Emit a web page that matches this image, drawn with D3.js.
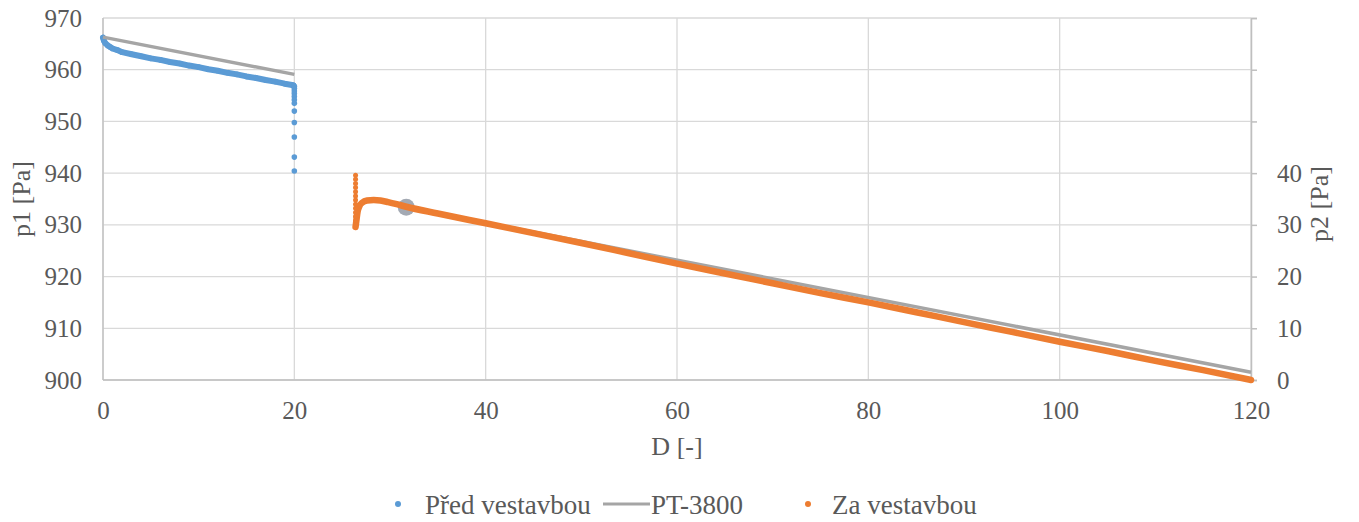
<!DOCTYPE html>
<html><head><meta charset="utf-8">
<script src="https://cdn.jsdelivr.net/npm/d3@7"></script>
<style>
html,body{margin:0;padding:0;background:#fff;}
svg text{font-family:"Liberation Serif","DejaVu Serif","Times New Roman",Times,serif !important;fill:#595959;}
</style></head>
<body><svg id="c" width="1359" height="522"></svg>
<script>
// ---- data ----
const xTicks = [0, 20, 40, 60, 80, 100, 120];
const p1Ticks = [900, 910, 920, 930, 940, 950, 960, 970];
const p2Ticks = [0, 10, 20, 30, 40, 50, 60, 70];
const p2Labels = ["0", "10", "20", "30", "40", "", "", ""];

// Před vestavbou (p1, left axis)
const blueD = [0, 0.1, 0.25, 0.5, 0.75, 1, 1.5, 2, 3, 4, 5, 6, 7, 8, 9, 10, 11, 12, 13, 14, 15, 16, 17, 18, 19, 19.9];
const blueP = [966.2, 965.6, 965.1, 964.7, 964.4, 964.1, 963.8, 963.4, 963.0, 962.6, 962.2, 961.9, 961.5, 961.2, 960.8, 960.5, 960.1, 959.8, 959.4, 959.1, 958.7, 958.4, 958.0, 957.7, 957.3, 957.0];
const blueDropD = 20;
const blueDropP = [956.8, 956.4, 955.9, 955.4, 954.8, 954.2, 953.5, 952.0, 949.8, 947.0, 943.1, 940.4];

// PT-3800 (p1, left axis)
const ptD = [0, 20, NaN, 31.7, 120];
const ptP = [966.3, 959.1, NaN, 933.4, 901.5];
const ptMarkerIndex = 3;

// Za vestavbou (p2, right axis)
const orangeDropD = 26.4;
const orangeDropP = [39.6, 38.8, 38.0, 37.2, 36.4, 35.6, 34.8, 34.0, 33.2, 32.4, 31.6, 30.8, 30.0, 29.6];
const orangeD = [26.4, 26.5, 26.6, 26.8, 27.1, 27.6, 28.3, 29.0, 29.8, 30.7, 31.7, 35, 40, 45, 50, 55, 60, 65, 70, 75, 80, 85, 90, 95, 100, 105, 110, 115, 120];
const orangeP = [29.6, 31.0, 32.4, 33.6, 34.3, 34.7, 34.8, 34.7, 34.4, 34.0, 33.5, 32.2, 30.3, 28.4, 26.5, 24.5, 22.5, 20.6, 18.7, 16.8, 15.0, 13.1, 11.2, 9.3, 7.4, 5.6, 3.7, 1.9, 0.0];

const legendItems = ["Před vestavbou", "PT-3800", "Za vestavbou"];
const colors = {blue: "#5b9bd5", gray: "#a5a5a5", orange: "#ed7d31"};

// ---- chart ----
const svg = d3.select("#c");
const L = 103, R = 1251, T = 18, B = 380;
const x = d3.scaleLinear().domain([0, 120]).range([L, R]);
const y1 = d3.scaleLinear().domain([900, 970]).range([B, T]);
const y2 = d3.scaleLinear().domain([0, 70]).range([B, T]);
const FS = 25;
const FF = '"Liberation Serif","DejaVu Serif",serif';

// gridlines
svg.append("g").selectAll("line").data(p1Ticks).join("line")
  .attr("x1", L).attr("x2", R).attr("y1", d => y1(d)).attr("y2", d => y1(d))
  .attr("stroke", "#d9d9d9").attr("stroke-width", 1.3);
svg.append("g").selectAll("line").data(xTicks).join("line")
  .attr("y1", T).attr("y2", B).attr("x1", d => x(d)).attr("x2", d => x(d))
  .attr("stroke", "#d9d9d9").attr("stroke-width", 1.3);

// axes lines
svg.append("line").attr("x1", L).attr("x2", R).attr("y1", B).attr("y2", B)
  .attr("stroke", "#bfbfbf").attr("stroke-width", 1.5);
svg.append("line").attr("x1", L).attr("x2", L).attr("y1", T).attr("y2", B)
  .attr("stroke", "#bfbfbf").attr("stroke-width", 1.3);

// bottom axis labels
const xAx = svg.append("g").attr("transform", `translate(0,${B})`)
  .call(d3.axisBottom(x).tickValues(xTicks).tickSize(0).tickPadding(21));
xAx.attr("font-family", FF);
xAx.select(".domain").remove();
xAx.selectAll("text").style("font-size", FS + "px").attr("fill", "#595959");

// left axis
const yAx = svg.append("g").attr("transform", `translate(${L},0)`)
  .call(d3.axisLeft(y1).tickValues(p1Ticks).tickSize(0).tickPadding(21));
yAx.attr("font-family", FF);
yAx.select(".domain").remove();
yAx.selectAll("text").style("font-size", FS + "px").attr("fill", "#595959");

// right axis
const y2Ax = svg.append("g").attr("transform", `translate(${R},0)`)
  .call(d3.axisRight(y2).tickValues(p2Ticks).tickSize(6).tickPadding(20)
    .tickFormat((d, i) => p2Labels[i]));
y2Ax.attr("font-family", FF);
y2Ax.select(".domain").attr("stroke", "#bfbfbf").attr("stroke-width", 1.5);
y2Ax.selectAll(".tick line").attr("stroke", "#bfbfbf").attr("stroke-width", 1.5);
y2Ax.selectAll("text").style("font-size", FS + "px").attr("fill", "#595959");

// axis titles
svg.append("text").attr("x", (L + R) / 2).attr("y", 455).attr("text-anchor", "middle")
  .style("font-size", "26px").text("D [-]");
svg.append("text").attr("transform", `translate(30,${(T + B) / 2}) rotate(-90)`)
  .attr("text-anchor", "middle").style("font-size", "26px").text("p1 [Pa]");
svg.append("text").attr("transform", `translate(1328,${(T + B) / 2 + 5}) rotate(-90)`)
  .attr("text-anchor", "middle").style("font-size", "26px").text("p2 [Pa]");

// Před vestavbou
const blue = blueD.map((d, i) => [d, blueP[i]]);
svg.append("path").datum(blue)
  .attr("d", d3.line().x(d => x(d[0])).y(d => y1(d[1])))
  .attr("fill", "none").attr("stroke", colors.blue).attr("stroke-width", 6)
  .attr("stroke-linecap", "round").attr("stroke-linejoin", "round");
svg.append("g").selectAll("circle").data(blue.concat(blueDropP.map(v => [blueDropD, v]))).join("circle")
  .attr("cx", d => x(d[0])).attr("cy", d => y1(d[1])).attr("r", 2.8).attr("fill", colors.blue);

// PT-3800
const pt = ptD.map((d, i) => [d, ptP[i]]);
svg.append("path").datum(pt)
  .attr("d", d3.line().defined(d => !isNaN(d[0])).x(d => x(d[0])).y(d => y1(d[1])))
  .attr("fill", "none").attr("stroke", colors.gray).attr("stroke-width", 3.5);
svg.append("circle").attr("cx", x(pt[ptMarkerIndex][0])).attr("cy", y1(pt[ptMarkerIndex][1]))
  .attr("r", 8.5).attr("fill", "#a3a9b3");

// Za vestavbou
const orange = orangeD.map((d, i) => [d, orangeP[i]]);
svg.append("path").datum(orange)
  .attr("d", d3.line().curve(d3.curveMonotoneX).x(d => x(d[0])).y(d => y2(d[1])))
  .attr("fill", "none").attr("stroke", colors.orange).attr("stroke-width", 6.5)
  .attr("stroke-linecap", "round").attr("stroke-linejoin", "round");
svg.append("g").selectAll("circle").data(orange.concat(orangeDropP.map(v => [orangeDropD, v]))).join("circle")
  .attr("cx", d => x(d[0])).attr("cy", d => y2(d[1])).attr("r", 2.5).attr("fill", colors.orange);

// legend
const lg = svg.append("g");
const ly = 508;
lg.append("circle").attr("cx", 398).attr("cy", ly - 4).attr("r", 3).attr("fill", colors.blue);
lg.append("text").attr("x", 425).attr("y", ly + 6).style("font-size", "27px").text(legendItems[0]);
lg.append("line").attr("x1", 603).attr("x2", 650).attr("y1", ly - 4).attr("y2", ly - 4)
  .attr("stroke", colors.gray).attr("stroke-width", 3.2);
lg.append("text").attr("x", 651).attr("y", ly + 6).style("font-size", "27px").text(legendItems[1]);
lg.append("circle").attr("cx", 808).attr("cy", ly - 4).attr("r", 3).attr("fill", colors.orange);
lg.append("text").attr("x", 832).attr("y", ly + 6).style("font-size", "27px").text(legendItems[2]);
</script></body></html>
